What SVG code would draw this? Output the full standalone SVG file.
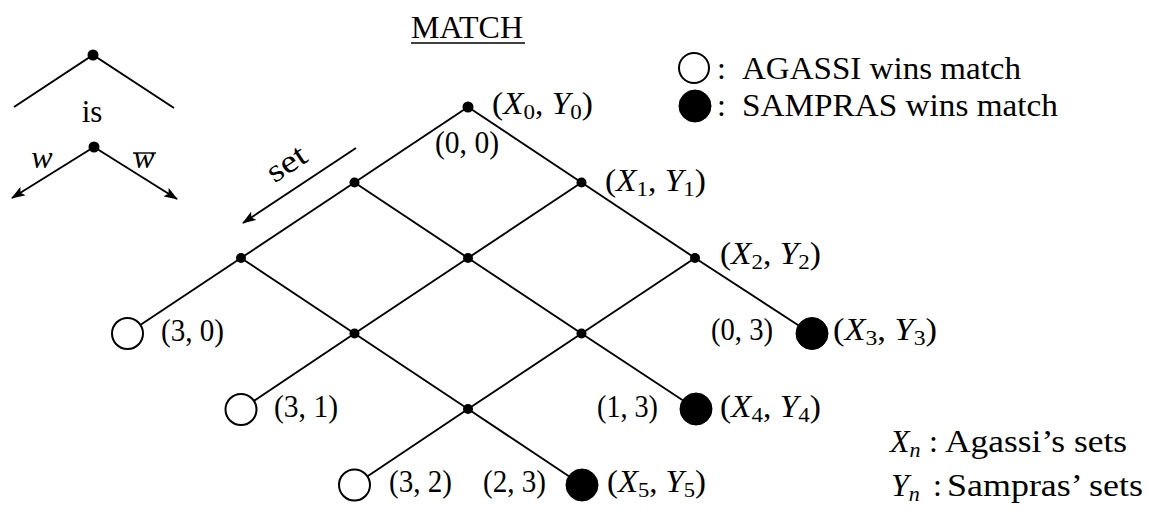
<svg xmlns="http://www.w3.org/2000/svg" width="1149" height="510" viewBox="0 0 1149 510" font-family="'Liberation Serif', 'DejaVu Serif', serif">
  <defs>
    <style>
      .edge { stroke: #000; stroke-width: 1.9; fill: none; }
      .dot { fill: #000; }
      .win-a { fill: #fff; stroke: #000; stroke-width: 2; }
      .win-s { fill: #000; stroke: #000; stroke-width: 1; }
      text { font-family: "Liberation Serif", "DejaVu Serif", serif; font-size: 32px; fill: #000; }
      .it { font-style: italic; }
      .sub { font-size: 22px; }
    </style>
    <marker id="head" viewBox="0 0 14 10" refX="13" refY="5" markerWidth="14" markerHeight="10" markerUnits="userSpaceOnUse" orient="auto">
      <path d="M0,0 L14,5 L0,10 L3,5 Z" fill="#000"/>
    </marker>
  </defs>
  <rect width="1149" height="510" fill="#fff"/>

  <!-- key: "is" branch and its w / w-bar children -->
  <g id="key-is">
    <polyline class="edge" points="14,107 93,55 174,108"/>
    <circle class="dot" cx="93" cy="55" r="5.5"/>
    <text x="92" y="122" text-anchor="middle" style="font-size:31px">is</text>
  </g>
  <g id="key-branch">
    <line class="edge" x1="94" y1="147" x2="12" y2="198" marker-end="url(#head)"/>
    <line class="edge" x1="94" y1="147" x2="177" y2="199" marker-end="url(#head)"/>
    <circle class="dot" cx="94" cy="147" r="5.5"/>
    <text class="it" x="42" y="168" text-anchor="middle" style="font-size:32px">w</text>
    <text class="it" x="144" y="168" text-anchor="middle" style="font-size:32px">w</text>
    <line x1="133" y1="153" x2="156" y2="153" stroke="#000" stroke-width="1.4"/>
  </g>

  <!-- set direction arrow -->
  <g id="set-arrow">
    <line class="edge" x1="356" y1="148" x2="243" y2="223" stroke-width="2.4" marker-end="url(#head)"/>
    <text x="292" y="172" text-anchor="middle" transform="rotate(-33.5 292 172)" textLength="42" lengthAdjust="spacingAndGlyphs">set</text>
  </g>

  <!-- title -->
  <g id="title">
    <text x="411" y="38" textLength="112" lengthAdjust="spacingAndGlyphs">MATCH</text>
    <line x1="411" y1="43" x2="525" y2="43" stroke="#000" stroke-width="1.5"/>
  </g>

  <!-- lattice connectors -->
  <g id="connectors">
    <line class="edge" x1="468" y1="107" x2="354.5" y2="182.5"/>
    <line class="edge" x1="468" y1="107" x2="581.5" y2="182.5"/>
    <line class="edge" x1="354.5" y1="182.5" x2="241" y2="258"/>
    <line class="edge" x1="354.5" y1="182.5" x2="468" y2="258"/>
    <line class="edge" x1="581.5" y1="182.5" x2="468" y2="258"/>
    <line class="edge" x1="581.5" y1="182.5" x2="695" y2="258"/>
    <line class="edge" x1="241" y1="258" x2="127.5" y2="333.5"/>
    <line class="edge" x1="241" y1="258" x2="354.5" y2="333.5"/>
    <line class="edge" x1="468" y1="258" x2="354.5" y2="333.5"/>
    <line class="edge" x1="468" y1="258" x2="581.5" y2="333.5"/>
    <line class="edge" x1="695" y1="258" x2="581.5" y2="333.5"/>
    <line class="edge" x1="695" y1="258" x2="811" y2="333.5"/>
    <line class="edge" x1="354.5" y1="333.5" x2="241" y2="409.5"/>
    <line class="edge" x1="354.5" y1="333.5" x2="468" y2="409"/>
    <line class="edge" x1="581.5" y1="333.5" x2="468" y2="409"/>
    <line class="edge" x1="581.5" y1="333.5" x2="696" y2="409"/>
    <line class="edge" x1="468" y1="409" x2="354.5" y2="485"/>
    <line class="edge" x1="468" y1="409" x2="582" y2="485"/>
  </g>

  <!-- inner states -->
  <g id="n00">
    <circle class="dot" cx="468" cy="107" r="5.5"/>
    <text x="492" y="114" textLength="101" lengthAdjust="spacingAndGlyphs">(<tspan class="it">X</tspan><tspan class="sub" dy="5">0</tspan><tspan dy="-5">, </tspan><tspan class="it">Y</tspan><tspan class="sub" dy="5">0</tspan><tspan dy="-5">)</tspan></text>
    <text x="435" y="153" textLength="64" lengthAdjust="spacingAndGlyphs">(0, 0)</text>
  </g>
  <g id="n10">
    <circle class="dot" cx="354.5" cy="182.5" r="5"/>
  </g>
  <g id="n01">
    <circle class="dot" cx="581.5" cy="182.5" r="5"/>
    <text x="605" y="191" textLength="101" lengthAdjust="spacingAndGlyphs">(<tspan class="it">X</tspan><tspan class="sub" dy="5">1</tspan><tspan dy="-5">, </tspan><tspan class="it">Y</tspan><tspan class="sub" dy="5">1</tspan><tspan dy="-5">)</tspan></text>
  </g>
  <g id="n20">
    <circle class="dot" cx="241" cy="258" r="5"/>
  </g>
  <g id="n11">
    <circle class="dot" cx="468" cy="258" r="5"/>
  </g>
  <g id="n02">
    <circle class="dot" cx="695" cy="258" r="5"/>
    <text x="720" y="264" textLength="101" lengthAdjust="spacingAndGlyphs">(<tspan class="it">X</tspan><tspan class="sub" dy="5">2</tspan><tspan dy="-5">, </tspan><tspan class="it">Y</tspan><tspan class="sub" dy="5">2</tspan><tspan dy="-5">)</tspan></text>
  </g>
  <g id="n21">
    <circle class="dot" cx="354.5" cy="333.5" r="5"/>
  </g>
  <g id="n12">
    <circle class="dot" cx="581.5" cy="333.5" r="5"/>
  </g>
  <g id="n22">
    <circle class="dot" cx="468" cy="409" r="5"/>
  </g>

  <!-- final scores -->
  <g id="t30">
    <circle class="win-a" cx="127.5" cy="333.5" r="15.5"/>
    <text x="161" y="341" textLength="63" lengthAdjust="spacingAndGlyphs">(3, 0)</text>
  </g>
  <g id="t31">
    <circle class="win-a" cx="241" cy="409.5" r="15.5"/>
    <text x="274" y="417" textLength="64" lengthAdjust="spacingAndGlyphs">(3, 1)</text>
  </g>
  <g id="t32">
    <circle class="win-a" cx="354.5" cy="485" r="15.5"/>
    <text x="389" y="492" textLength="63" lengthAdjust="spacingAndGlyphs">(3, 2)</text>
  </g>
  <g id="t03">
    <circle class="win-s" cx="812" cy="333.5" r="16"/>
    <text x="711" y="340" textLength="62" lengthAdjust="spacingAndGlyphs">(0, 3)</text>
    <text x="833" y="340" textLength="104" lengthAdjust="spacingAndGlyphs">(<tspan class="it">X</tspan><tspan class="sub" dy="5">3</tspan><tspan dy="-5">, </tspan><tspan class="it">Y</tspan><tspan class="sub" dy="5">3</tspan><tspan dy="-5">)</tspan></text>
  </g>
  <g id="t13">
    <circle class="win-s" cx="696" cy="409" r="16"/>
    <text x="597" y="417" textLength="61" lengthAdjust="spacingAndGlyphs">(1, 3)</text>
    <text x="720" y="417" textLength="101" lengthAdjust="spacingAndGlyphs">(<tspan class="it">X</tspan><tspan class="sub" dy="5">4</tspan><tspan dy="-5">, </tspan><tspan class="it">Y</tspan><tspan class="sub" dy="5">4</tspan><tspan dy="-5">)</tspan></text>
  </g>
  <g id="t23">
    <circle class="win-s" cx="582" cy="485" r="16"/>
    <text x="483" y="492" textLength="63" lengthAdjust="spacingAndGlyphs">(2, 3)</text>
    <text x="607" y="492" textLength="99" lengthAdjust="spacingAndGlyphs">(<tspan class="it">X</tspan><tspan class="sub" dy="5">5</tspan><tspan dy="-5">, </tspan><tspan class="it">Y</tspan><tspan class="sub" dy="5">5</tspan><tspan dy="-5">)</tspan></text>
  </g>

  <!-- legend -->
  <g id="legend">
    <circle class="win-a" cx="694" cy="68" r="15"/>
    <text x="717" y="79">:</text>
    <text x="742" y="79" textLength="279" lengthAdjust="spacingAndGlyphs">AGASSI wins match</text>
    <circle class="win-s" cx="695" cy="106" r="16"/>
    <text x="717" y="116">:</text>
    <text x="742" y="116" textLength="316" lengthAdjust="spacingAndGlyphs">SAMPRAS wins match</text>
  </g>
  <g id="notation">
    <text x="890" y="452"><tspan class="it">X</tspan><tspan class="sub it" dy="5">n</tspan></text>
    <text x="929" y="452">:</text>
    <text x="945" y="452" textLength="182" lengthAdjust="spacingAndGlyphs">Agassi’s sets</text>
    <text x="891" y="496"><tspan class="it">Y</tspan><tspan class="sub it" dy="5">n</tspan></text>
    <text x="933" y="496">:</text>
    <text x="947" y="496" textLength="196" lengthAdjust="spacingAndGlyphs">Sampras’ sets</text>
  </g>
</svg>
